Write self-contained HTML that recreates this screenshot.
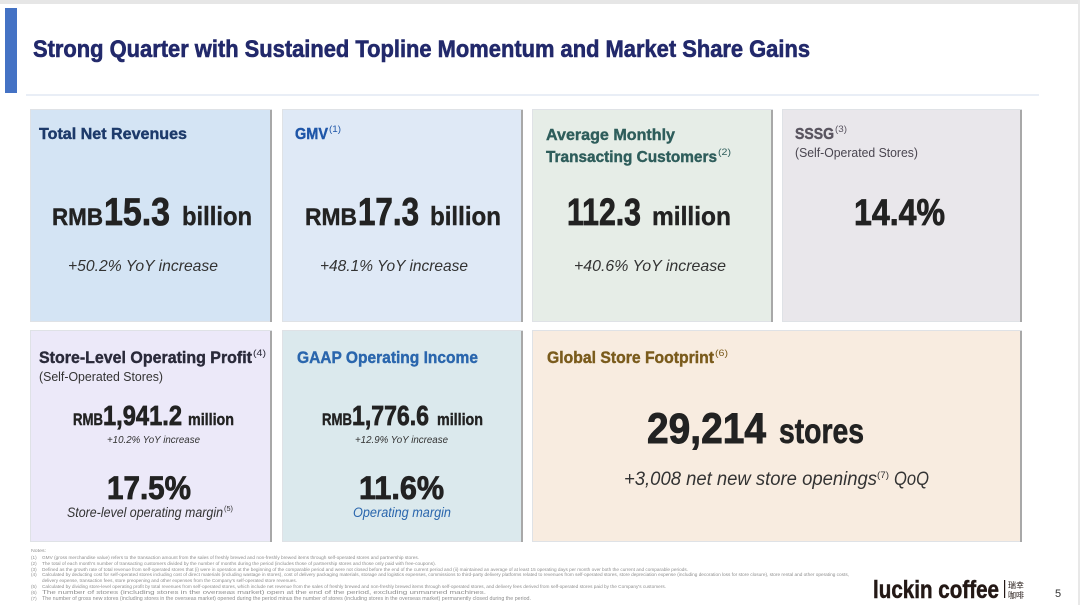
<!DOCTYPE html>
<html><head><meta charset="utf-8"><style>
html,body{margin:0;padding:0;background:#fff;}
svg{display:block;}
text{font-family:"Liberation Sans","Noto Sans CJK SC",sans-serif;}
</style></head><body>
<svg width="1080" height="605" viewBox="0 0 1080 605" xmlns="http://www.w3.org/2000/svg">
<rect x="0" y="0" width="1080" height="605" fill="#ffffff"/>
<rect x="0" y="0" width="1080" height="4" fill="#e6e6e6"/>
<rect x="1078" y="0" width="2" height="605" fill="#e8e8e8"/>
<rect x="5" y="8" width="12" height="85" fill="#4472c4"/>
<text x="33" y="57" font-size="24" font-weight="bold" fill="#22296b" stroke="#22296b" stroke-width="0.6" textLength="777" lengthAdjust="spacingAndGlyphs">Strong Quarter with Sustained Topline Momentum and Market Share Gains</text>
<rect x="26" y="94" width="1013" height="2" fill="#e9eef6"/>

<g stroke="#dfe2e6" stroke-width="1">
<rect x="30.5" y="109.5" width="241" height="212" fill="#d4e4f4"/>
<rect x="282.5" y="109.5" width="240" height="212" fill="#dfe9f6"/>
<rect x="532.5" y="109.5" width="240" height="212" fill="#e6ede7"/>
<rect x="782.5" y="109.5" width="239" height="212" fill="#e9e7eb"/>
<rect x="30.5" y="330.5" width="241" height="211" fill="#ece9f9"/>
<rect x="282.5" y="330.5" width="240" height="211" fill="#dbe9ed"/>
<rect x="532.5" y="330.5" width="489" height="211" fill="#f8ece0"/>
</g>
<g fill="#a8a8a8">
<rect x="270" y="110" width="2" height="212"/>
<rect x="521" y="110" width="2" height="212"/>
<rect x="771" y="110" width="2" height="212"/>
<rect x="1020" y="110" width="2" height="212"/>
<rect x="270" y="331" width="2" height="211"/>
<rect x="521" y="331" width="2" height="211"/>
<rect x="1020" y="331" width="2" height="211"/>
</g>

<g stroke-width="0.4">
<!-- Card 1 -->
<text x="39" y="139" font-size="16" font-weight="bold" fill="#1d3a6a" stroke="#1d3a6a" textLength="148" lengthAdjust="spacingAndGlyphs">Total Net Revenues</text>
<text x="52" y="225" font-size="24" font-weight="bold" fill="#222" stroke="#222" textLength="51" lengthAdjust="spacingAndGlyphs">RMB</text>
<text x="104" y="225" font-size="39" font-weight="bold" fill="#222" stroke="#222" stroke-width="0.8" textLength="66" lengthAdjust="spacingAndGlyphs">15.3</text>
<text x="182" y="225" font-size="26" font-weight="bold" fill="#222" stroke="#222" textLength="70" lengthAdjust="spacingAndGlyphs">billion</text>
<text x="68" y="271" font-size="16" font-style="italic" fill="#333" stroke="none" textLength="150" lengthAdjust="spacingAndGlyphs">+50.2% YoY increase</text>

<!-- Card 2 -->
<text x="295" y="139" font-size="16" font-weight="bold" fill="#1f56a8" stroke="#1f56a8" textLength="33" lengthAdjust="spacingAndGlyphs">GMV</text>
<text x="329" y="132" font-size="9" fill="#1f56a8" textLength="12" lengthAdjust="spacingAndGlyphs">(1)</text>
<text x="305" y="225" font-size="24" font-weight="bold" fill="#222" stroke="#222" textLength="52" lengthAdjust="spacingAndGlyphs">RMB</text>
<text x="358" y="225" font-size="39" font-weight="bold" fill="#222" stroke="#222" stroke-width="0.8" textLength="61" lengthAdjust="spacingAndGlyphs">17.3</text>
<text x="430" y="225" font-size="26" font-weight="bold" fill="#222" stroke="#222" textLength="71" lengthAdjust="spacingAndGlyphs">billion</text>
<text x="320" y="271" font-size="16" font-style="italic" fill="#333" textLength="148" lengthAdjust="spacingAndGlyphs">+48.1% YoY increase</text>

<!-- Card 3 -->
<text x="546" y="140" font-size="16" font-weight="bold" fill="#2e5d5b" stroke="#2e5d5b" textLength="129" lengthAdjust="spacingAndGlyphs">Average Monthly</text>
<text x="546" y="162" font-size="16" font-weight="bold" fill="#2e5d5b" stroke="#2e5d5b" textLength="171" lengthAdjust="spacingAndGlyphs">Transacting Customers</text>
<text x="718" y="155" font-size="9" fill="#2e5d5b" textLength="13" lengthAdjust="spacingAndGlyphs">(2)</text>
<text x="567" y="225" font-size="38" font-weight="bold" fill="#222" stroke="#222" stroke-width="0.8" textLength="74" lengthAdjust="spacingAndGlyphs">112.3</text>
<text x="652" y="225" font-size="26" font-weight="bold" fill="#222" stroke="#222" textLength="79" lengthAdjust="spacingAndGlyphs">million</text>
<text x="574" y="271" font-size="16" font-style="italic" fill="#333" textLength="152" lengthAdjust="spacingAndGlyphs">+40.6% YoY increase</text>

<!-- Card 4 -->
<text x="795" y="139" font-size="16" font-weight="bold" fill="#5a5560" stroke="#5a5560" textLength="39" lengthAdjust="spacingAndGlyphs">SSSG</text>
<text x="835" y="132" font-size="9" fill="#5a5560" textLength="12" lengthAdjust="spacingAndGlyphs">(3)</text>
<text x="795" y="157" font-size="13" fill="#4a4650" textLength="123" lengthAdjust="spacingAndGlyphs">(Self-Operated Stores)</text>
<text x="854" y="225" font-size="37" font-weight="bold" fill="#222" stroke="#222" stroke-width="0.8" textLength="91" lengthAdjust="spacingAndGlyphs">14.4%</text>

<!-- Bottom card 1 -->
<text x="39" y="363" font-size="17" font-weight="bold" fill="#2a2a3a" stroke="#2a2a3a" textLength="213" lengthAdjust="spacingAndGlyphs">Store-Level Operating Profit</text>
<text x="253" y="356" font-size="9" fill="#2a2a3a" textLength="13" lengthAdjust="spacingAndGlyphs">(4)</text>
<text x="39" y="381" font-size="13" fill="#333" textLength="124" lengthAdjust="spacingAndGlyphs">(Self-Operated Stores)</text>
<text x="73" y="425" font-size="17" font-weight="bold" fill="#222" stroke="#222" textLength="30" lengthAdjust="spacingAndGlyphs">RMB</text>
<text x="103" y="425" font-size="28" font-weight="bold" fill="#222" stroke="#222" stroke-width="0.7" textLength="79" lengthAdjust="spacingAndGlyphs">1,941.2</text>
<text x="188" y="425" font-size="17" font-weight="bold" fill="#222" stroke="#222" textLength="46" lengthAdjust="spacingAndGlyphs">million</text>
<text x="107" y="443" font-size="10" font-style="italic" fill="#333" textLength="93" lengthAdjust="spacingAndGlyphs">+10.2% YoY increase</text>
<text x="107" y="499" font-size="32" font-weight="bold" fill="#222" stroke="#222" stroke-width="0.8" textLength="84" lengthAdjust="spacingAndGlyphs">17.5%</text>
<text x="67" y="517" font-size="13.5" font-style="italic" fill="#333" textLength="156" lengthAdjust="spacingAndGlyphs">Store-level operating margin</text>
<text x="224" y="511" font-size="7" fill="#333" textLength="9" lengthAdjust="spacingAndGlyphs">(5)</text>

<!-- Bottom card 2 -->
<text x="297" y="363" font-size="17" font-weight="bold" fill="#2a66ad" stroke="#2a66ad" textLength="181" lengthAdjust="spacingAndGlyphs">GAAP Operating Income</text>
<text x="322" y="425" font-size="17" font-weight="bold" fill="#222" stroke="#222" textLength="30" lengthAdjust="spacingAndGlyphs">RMB</text>
<text x="352" y="425" font-size="28" font-weight="bold" fill="#222" stroke="#222" stroke-width="0.7" textLength="77" lengthAdjust="spacingAndGlyphs">1,776.6</text>
<text x="437" y="425" font-size="17" font-weight="bold" fill="#222" stroke="#222" textLength="46" lengthAdjust="spacingAndGlyphs">million</text>
<text x="355" y="443" font-size="10" font-style="italic" fill="#333" textLength="93" lengthAdjust="spacingAndGlyphs">+12.9% YoY increase</text>
<text x="359" y="499" font-size="32" font-weight="bold" fill="#222" stroke="#222" stroke-width="0.8" textLength="85" lengthAdjust="spacingAndGlyphs">11.6%</text>
<text x="353" y="517" font-size="13.5" font-style="italic" fill="#2a66ad" textLength="98" lengthAdjust="spacingAndGlyphs">Operating margin</text>

<!-- Bottom card 3 -->
<text x="547" y="363" font-size="17" font-weight="bold" fill="#7a5b1c" stroke="#7a5b1c" textLength="167" lengthAdjust="spacingAndGlyphs">Global Store Footprint</text>
<text x="715" y="356" font-size="9" fill="#7a5b1c" textLength="13" lengthAdjust="spacingAndGlyphs">(6)</text>
<text x="647" y="443" font-size="43" font-weight="bold" fill="#222" stroke="#222" stroke-width="0.9" textLength="119" lengthAdjust="spacingAndGlyphs">29,214</text>
<text x="779" y="443" font-size="35" font-weight="bold" fill="#222" stroke="#222" stroke-width="0.6" textLength="85" lengthAdjust="spacingAndGlyphs">stores</text>
<text x="624" y="485" font-size="19" font-style="italic" fill="#333" textLength="253" lengthAdjust="spacingAndGlyphs">+3,008 net new store openings</text>
<text x="877" y="478" font-size="9" fill="#333" textLength="12" lengthAdjust="spacingAndGlyphs">(7)</text>
<text x="894" y="485" font-size="19" font-style="italic" fill="#333" textLength="35" lengthAdjust="spacingAndGlyphs">QoQ</text>
</g>

<!-- Notes -->
<g font-size="4.6" fill="#8e8e8e">
<text x="31" y="552" textLength="15" lengthAdjust="spacingAndGlyphs">Notes:</text>
<text x="31" y="559">(1)</text><text x="42" y="559" textLength="377" lengthAdjust="spacingAndGlyphs">GMV (gross merchandise value) refers to the transaction amount from the sales of freshly brewed and non-freshly brewed items through self-operated stores and partnership stores.</text>
<text x="31" y="565">(2)</text><text x="42" y="565" textLength="394" lengthAdjust="spacingAndGlyphs">The total of each month's number of transacting customers divided by the number of months during the period (includes those of partnership stores and those only paid with free-coupons).</text>
<text x="31" y="571">(3)</text><text x="42" y="571" textLength="646" lengthAdjust="spacingAndGlyphs">Defined as the growth rate of total revenue from self-operated stores that (i) were in operation at the beginning of the comparable period and were not closed before the end of the current period and (ii) maintained an average of at least 15 operating days per month over both the current and comparable periods.</text>
<text x="31" y="576">(4)</text><text x="42" y="576" textLength="807" lengthAdjust="spacingAndGlyphs">Calculated by deducting cost for self-operated stores including cost of direct materials (including wastage in stores), cost of delivery packaging materials, storage and logistics expenses, commissions to third-party delivery platforms related to revenues from self-operated stores, store depreciation expense (including decoration loss for store closure), store rental and other operating costs,</text>
<text x="42" y="582" textLength="255" lengthAdjust="spacingAndGlyphs">delivery expense, transaction fees, store preopening and other expenses from the Company's self-operated store revenues.</text>
<text x="31" y="588">(5)</text><text x="42" y="588" textLength="624" lengthAdjust="spacingAndGlyphs">Calculated by dividing store-level operating profit by total revenues from self-operated stores, which include net revenue from the sales of freshly brewed and non-freshly brewed items through self-operated stores, and delivery fees derived from self-operated stores paid by the Company's customers.</text>
<text x="31" y="594">(6)</text><text x="42" y="594" font-size="5.2" textLength="444" lengthAdjust="spacingAndGlyphs">The number of stores (including stores in the overseas market) open at the end of the period, excluding unmanned machines.</text>
<text x="31" y="600">(7)</text><text x="42" y="600" font-size="5" textLength="489" lengthAdjust="spacingAndGlyphs">The number of gross new stores (including stores in the overseas market) opened during the period minus the number of stores (including stores in the overseas market) permanently closed during the period.</text>
</g>

<!-- Logo -->
<text x="873" y="598" font-size="25" font-weight="bold" fill="#231815" stroke="#231815" stroke-width="0.5" textLength="126" lengthAdjust="spacingAndGlyphs">luckin coffee</text>
<rect x="1004" y="580" width="1.2" height="18" fill="#231815"/>
<text x="1008" y="588" font-size="8" fill="#231815" font-family="'Noto Sans CJK SC',sans-serif" textLength="16" lengthAdjust="spacingAndGlyphs">瑞幸</text>
<text x="1008" y="598" font-size="8" fill="#231815" font-family="'Noto Sans CJK SC',sans-serif" textLength="16" lengthAdjust="spacingAndGlyphs">咖啡</text>
<text x="1055" y="597" font-size="11" fill="#333">5</text>
</svg>
</body></html>
